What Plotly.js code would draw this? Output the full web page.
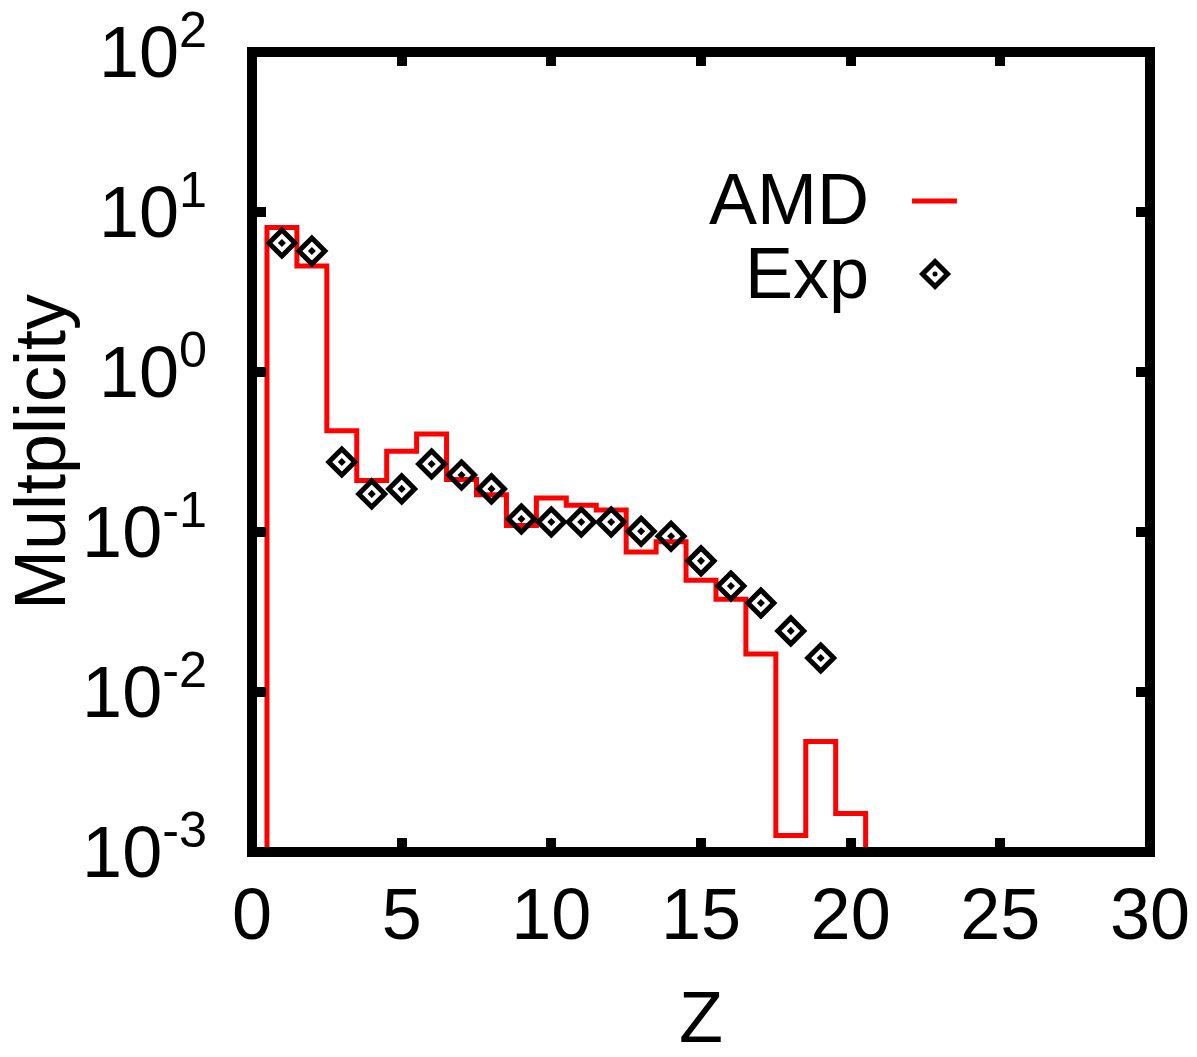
<!DOCTYPE html>
<html>
<head>
<meta charset="utf-8">
<script src="https://cdn.plot.ly/plotly-3.0.1.min.js"></script>
<style>
  html, body { margin: 0; padding: 0; background: #ffffff; }
  #chart { width: 1197px; height: 1057px; }
</style>
</head>
<body>
<div id="chart"></div>
<script>
// AMD histogram (Z=0 and Z=21 lie below the visible range; they only close the steps)
const amdZ = [0, 1, 2, 3, 4, 5, 6, 7, 8, 9, 10, 11, 12, 13, 14, 15, 16, 17, 18, 19, 20, 21];
const amdMult = [1e-6, 8.0, 4.6, 0.43, 0.21, 0.32, 0.41, 0.213, 0.171, 0.11, 0.163, 0.147, 0.137, 0.075, 0.087, 0.050, 0.038, 0.0173, 0.00127, 0.0049, 0.00174, 1e-6];

// Experimental points
const expZ = [1, 2, 3, 4, 5, 6, 7, 8, 9, 10, 11, 12, 13, 14, 15, 16, 17, 18, 19];
const expMult = [6.4, 5.7, 0.274, 0.173, 0.186, 0.266, 0.227, 0.186, 0.1205, 0.1155, 0.1155, 0.1155, 0.101, 0.094, 0.066, 0.046, 0.036, 0.0241, 0.0163];

// Tick labels
const xTickVals = [0, 5, 10, 15, 20, 25, 30];
const yTickVals = [1e-3, 1e-2, 1e-1, 1, 10, 100];
const yTickText = ['10<sup>-3</sup>', '10<sup>-2</sup>', '10<sup>-1</sup>', '10<sup>0</sup>', '10<sup>1</sup>', '10<sup>2</sup>'];

const FONT = 'Liberation Sans, Arial, Helvetica, sans-serif';

const traces = [
  {
    x: amdZ, y: amdMult, type: 'scatter', mode: 'lines', name: 'AMD',
    line: { shape: 'hvh', color: '#ff0000', width: 5 },
    showlegend: false
  },
  {
    x: expZ, y: expMult, type: 'scatter', mode: 'markers', name: 'Exp',
    marker: { symbol: 'diamond-open-dot', size: 20, color: '#000000', line: { color: '#000000', width: 5 } },
    showlegend: false
  }
];

const layout = {
  width: 1197, height: 1057,
  margin: { l: 252, r: 47, t: 52, b: 205 },
  paper_bgcolor: '#ffffff', plot_bgcolor: '#ffffff',
  font: { family: FONT, size: 72, color: '#000000' },
  xaxis: {
    range: [0, 30], tickvals: xTickVals, ticks: 'inside', ticklen: 14, tickwidth: 10, tickcolor: '#000',
    mirror: 'ticks', showline: false, showgrid: false, zeroline: false,
    ticklabelstandoff: 14,
    tickfont: { family: FONT, size: 72 },
    title: { text: 'Z', font: { family: FONT, size: 72 }, standoff: 46 },
    automargin: false
  },
  yaxis: {
    type: 'log', range: [-3, 2], tickvals: yTickVals, ticktext: yTickText,
    ticks: 'inside', ticklen: 14, tickwidth: 10, tickcolor: '#000',
    mirror: 'ticks', showline: false, showgrid: false, zeroline: false,
    ticklabelstandoff: 44,
    tickfont: { family: FONT, size: 72 },
    title: { text: 'Multplicity', font: { family: FONT, size: 72 }, standoff: 20 },
    automargin: false
  },
  shapes: [
    { type: 'rect', xref: 'paper', yref: 'paper', x0: 0, x1: 1, y0: 0, y1: 1,
      line: { color: '#000', width: 10 }, fillcolor: 'rgba(0,0,0,0)', layer: 'above' },
    // legend key: AMD line
    { type: 'line', xref: 'paper', yref: 'paper', x0: 0.735, x1: 0.785, y0: 0.81375, y1: 0.81375,
      line: { color: '#ff0000', width: 5 } },
    // legend key: Exp diamond
    { type: 'path', xref: 'paper', yref: 'paper', xsizemode: 'pixel', ysizemode: 'pixel',
      xanchor: 0.7606, yanchor: 0.7225, path: 'M0,12.5L12.5,0L0,-12.5L-12.5,0Z',
      line: { color: '#000', width: 5 }, fillcolor: 'rgba(0,0,0,0)' },
    { type: 'circle', xref: 'paper', yref: 'paper', xsizemode: 'pixel', ysizemode: 'pixel',
      xanchor: 0.7606, yanchor: 0.7225, x0: -2.5, x1: 2.5, y0: -2.5, y1: 2.5,
      line: { color: '#000', width: 0 }, fillcolor: '#000' }
  ],
  annotations: [
    { xref: 'paper', yref: 'paper', x: 0.6893, y: 0.81625, xanchor: 'right', yanchor: 'middle',
      text: 'AMD', showarrow: false, font: { family: FONT, size: 72, color: '#000' } },
    { xref: 'paper', yref: 'paper', x: 0.6893, y: 0.724, xanchor: 'right', yanchor: 'middle',
      text: 'Exp', showarrow: false, font: { family: FONT, size: 72, color: '#000' } }
  ]
};

Plotly.newPlot('chart', traces, layout, { displayModeBar: false, staticPlot: true });
</script>
</body>
</html>
